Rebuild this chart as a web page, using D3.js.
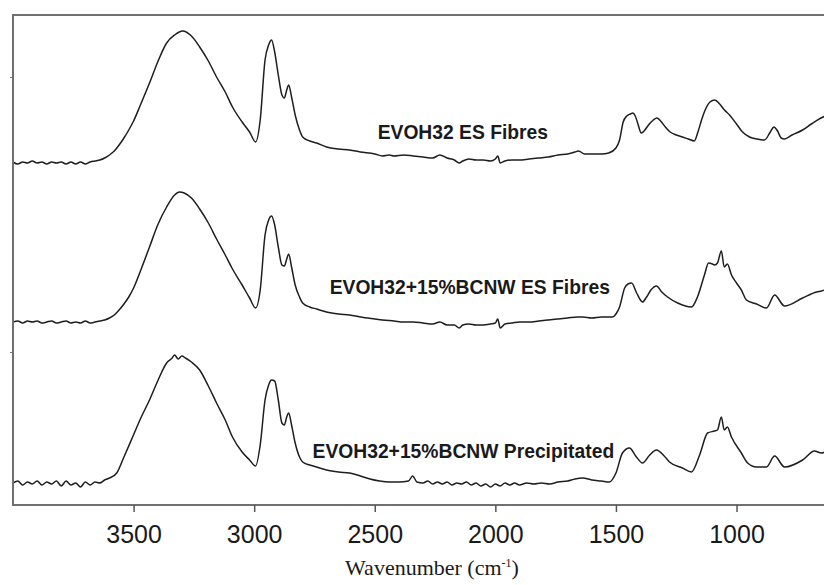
<!DOCTYPE html>
<html>
<head>
<meta charset="utf-8">
<script src="https://cdn.jsdelivr.net/npm/d3@7"></script>
<style>
  html, body { margin: 0; padding: 0; background: #fff; }
  svg { display: block; }
</style>
</head>
<body>
<svg id="chart" width="824" height="585"></svg>
<script>
// FTIR spectra, stacked absorbance (a.u.) vs wavenumber (cm-1)
const seriesNames = [
  "EVOH32 ES Fibres",
  "EVOH32+15%BCNW ES Fibres",
  "EVOH32+15%BCNW Precipitated"
];

const evohFibres = [
  [4000,3.43],[3980,3.41],[3960,3.43],[3940,3.42],[3920,3.44],[3900,3.42],[3880,3.43],[3860,3.41],[3840,3.43],[3820,3.42],
  [3800,3.43],[3780,3.41],[3760,3.43],[3740,3.41],[3720,3.43],[3700,3.41],[3680,3.43],[3660,3.44],[3640,3.45],[3620,3.47],
  [3600,3.50],[3580,3.54],[3560,3.60],[3540,3.67],[3520,3.75],[3500,3.84],[3470,4.01],[3434,4.22],[3400,4.43],[3363,4.62],
  [3330,4.70],[3297,4.74],[3260,4.69],[3226,4.58],[3190,4.44],[3156,4.28],[3120,4.13],[3090,3.98],[3050,3.83],[3019,3.73],
  [2994,3.63],[2975,3.85],[2955,4.45],[2940,4.60],[2928,4.65],[2915,4.53],[2900,4.30],[2885,4.10],[2875,4.07],[2865,4.15],
  [2857,4.20],[2845,4.08],[2830,3.90],[2812,3.75],[2799,3.68],[2770,3.64],[2741,3.62],[2700,3.58],[2650,3.56],[2604,3.55],
  [2560,3.53],[2500,3.51],[2468,3.49],[2440,3.50],[2420,3.49],[2380,3.50],[2340,3.49],[2300,3.48],[2260,3.47],[2230,3.50],
  [2200,3.47],[2170,3.45],[2150,3.42],[2135,3.44],[2110,3.46],[2080,3.45],[2050,3.45],[2020,3.44],[2000,3.46],[1990,3.49],
  [1980,3.42],[1960,3.44],[1930,3.45],[1900,3.45],[1860,3.46],[1820,3.47],[1780,3.48],[1740,3.50],[1700,3.51],[1670,3.53],
  [1655,3.54],[1630,3.51],[1600,3.51],[1560,3.51],[1530,3.52],[1500,3.57],[1485,3.65],[1470,3.83],[1455,3.89],[1440,3.91],
  [1430,3.92],[1420,3.89],[1410,3.82],[1395,3.72],[1380,3.75],[1365,3.80],[1345,3.85],[1330,3.87],[1315,3.84],[1295,3.78],
  [1275,3.73],[1250,3.70],[1224,3.68],[1200,3.66],[1175,3.64],[1160,3.73],[1145,3.85],[1130,3.95],[1110,4.03],[1090,4.05],
  [1070,4.01],[1050,3.95],[1029,3.90],[1000,3.81],[975,3.73],[946,3.68],[915,3.66],[884,3.65],[860,3.73],[845,3.78],
  [830,3.74],[815,3.67],[801,3.66],[770,3.70],[726,3.75],[690,3.81],[650,3.87],[620,3.90]
];

const bcnwFibres = [
  [4000,1.83],[3980,1.84],[3960,1.82],[3940,1.84],[3920,1.83],[3900,1.84],[3880,1.82],[3860,1.83],[3840,1.84],[3820,1.82],
  [3800,1.83],[3780,1.84],[3760,1.82],[3740,1.83],[3720,1.82],[3700,1.84],[3680,1.82],[3660,1.83],[3640,1.84],[3620,1.85],
  [3600,1.87],[3580,1.90],[3560,1.95],[3540,2.01],[3520,2.08],[3500,2.17],[3470,2.35],[3434,2.58],[3400,2.80],[3363,2.98],
  [3330,3.10],[3310,3.13],[3290,3.12],[3260,3.07],[3226,2.96],[3190,2.82],[3156,2.66],[3120,2.50],[3090,2.36],[3050,2.20],
  [3019,2.07],[2994,1.97],[2975,2.15],[2955,2.70],[2940,2.85],[2928,2.89],[2915,2.80],[2900,2.58],[2885,2.40],[2875,2.39],
  [2865,2.46],[2857,2.51],[2845,2.38],[2830,2.20],[2812,2.08],[2799,2.02],[2770,1.98],[2741,1.96],[2700,1.93],[2650,1.91],
  [2604,1.90],[2560,1.88],[2500,1.86],[2468,1.85],[2420,1.84],[2380,1.83],[2340,1.83],[2300,1.82],[2260,1.81],[2230,1.83],
  [2200,1.80],[2170,1.80],[2150,1.77],[2135,1.80],[2110,1.81],[2080,1.80],[2050,1.80],[2020,1.81],[2000,1.82],[1990,1.86],
  [1980,1.77],[1960,1.81],[1930,1.82],[1900,1.83],[1860,1.83],[1820,1.84],[1780,1.85],[1740,1.86],[1700,1.87],[1660,1.88],
  [1638,1.88],[1600,1.87],[1560,1.88],[1514,1.88],[1500,1.91],[1485,1.98],[1464,2.17],[1450,2.21],[1435,2.22],[1414,2.12],
  [1390,2.03],[1373,2.08],[1355,2.15],[1332,2.19],[1310,2.13],[1286,2.08],[1244,2.02],[1187,1.98],[1162,2.08],[1133,2.30],
  [1116,2.42],[1100,2.41],[1091,2.40],[1079,2.42],[1063,2.54],[1051,2.38],[1038,2.41],[1021,2.30],[1000,2.22],[980,2.15],
  [959,2.05],[917,2.01],[876,1.97],[842,2.10],[801,1.99],[726,2.07],[668,2.13],[648,2.14],[620,2.16]
];

const bcnwPrecipitated = [
  [4000,0.22],[3980,0.24],[3960,0.20],[3940,0.23],[3920,0.21],[3900,0.24],[3880,0.20],[3860,0.23],[3840,0.21],[3820,0.24],
  [3800,0.19],[3780,0.24],[3760,0.20],[3740,0.22],[3720,0.18],[3700,0.23],[3680,0.20],[3660,0.23],[3640,0.22],[3620,0.25],
  [3600,0.27],[3570,0.32],[3540,0.48],[3504,0.68],[3470,0.87],[3434,1.05],[3400,1.24],[3363,1.42],[3340,1.47],[3330,1.50],
  [3315,1.46],[3300,1.49],[3285,1.47],[3260,1.43],[3226,1.35],[3190,1.19],[3156,1.02],[3120,0.85],[3090,0.68],[3050,0.53],
  [3019,0.45],[2994,0.39],[2975,0.60],[2955,1.05],[2940,1.20],[2928,1.25],[2915,1.24],[2900,1.05],[2885,0.82],[2875,0.80],
  [2865,0.88],[2857,0.92],[2845,0.80],[2830,0.62],[2812,0.48],[2799,0.43],[2770,0.40],[2741,0.38],[2700,0.35],[2650,0.33],
  [2604,0.32],[2560,0.29],[2520,0.26],[2480,0.24],[2440,0.23],[2400,0.23],[2360,0.24],[2343,0.29],[2325,0.23],[2300,0.22],
  [2280,0.24],[2260,0.21],[2240,0.23],[2220,0.21],[2200,0.23],[2180,0.20],[2160,0.22],[2140,0.21],[2120,0.23],[2100,0.20],
  [2080,0.22],[2060,0.19],[2040,0.21],[2020,0.18],[2000,0.21],[1980,0.19],[1960,0.22],[1940,0.20],[1920,0.22],[1900,0.20],
  [1870,0.22],[1840,0.21],[1810,0.22],[1775,0.21],[1740,0.23],[1700,0.24],[1670,0.26],[1638,0.27],[1600,0.25],[1560,0.24],
  [1527,0.23],[1500,0.32],[1473,0.52],[1444,0.57],[1415,0.48],[1390,0.42],[1360,0.50],[1332,0.55],[1300,0.49],[1278,0.43],
  [1224,0.37],[1187,0.33],[1153,0.50],[1120,0.72],[1091,0.74],[1079,0.75],[1063,0.88],[1051,0.75],[1038,0.78],[1021,0.68],
  [980,0.52],[954,0.42],[917,0.38],[876,0.38],[842,0.49],[801,0.38],[726,0.45],[677,0.54],[648,0.52],[620,0.55]
];

// label anchors in data units: [wavenumber, absorbance]
const labelAnchors = [[2488, 3.66], [2687, 2.11], [2758, 0.47]];

const xTicks = [3500, 3000, 2500, 2000, 1500, 1000];
const yTicks = [1.53, 4.28];

const svg = d3.select("#chart");
const plot = { left: 13, top: 15, bottom: 505, right: 833 };

const x = d3.scaleLinear().domain([4000, 600]).range([plot.left, plot.right]);
const y = d3.scaleLinear().domain([0, 4.9]).range([plot.bottom, plot.top]);

svg.append("defs").append("clipPath").attr("id", "plotClip")
  .append("rect")
  .attr("x", plot.left).attr("y", plot.top)
  .attr("width", plot.right - plot.left).attr("height", plot.bottom - plot.top);

// spectra
const line = d3.line().x(d => x(d[0])).y(d => y(d[1])).curve(d3.curveMonotoneX);
const spectra = [evohFibres, bcnwFibres, bcnwPrecipitated];
svg.append("g").attr("clip-path", "url(#plotClip)")
  .selectAll("path").data(spectra).join("path")
  .attr("d", line)
  .attr("fill", "none")
  .attr("stroke", "#1e1e1e")
  .attr("stroke-width", 1.5)
  .attr("stroke-linejoin", "round");

// frame
svg.append("rect")
  .attr("x", plot.left).attr("y", plot.top)
  .attr("width", plot.right - plot.left).attr("height", plot.bottom - plot.top)
  .attr("fill", "none").attr("stroke", "#707070").attr("stroke-width", 2);

// bottom axis
const xAxis = svg.append("g")
  .attr("transform", `translate(0,${plot.bottom})`)
  .call(d3.axisBottom(x).tickValues(xTicks).tickSize(7).tickSizeOuter(0).tickFormat(d3.format("d")));
xAxis.select(".domain").remove();
xAxis.selectAll(".tick line").attr("stroke", "#555").attr("stroke-width", 1.5);
xAxis.selectAll(".tick text")
  .attr("y", 38).attr("dy", null)
  .attr("fill", "#1a1a1a")
  .style("font-family", "Arial, 'Liberation Sans', sans-serif")
  .style("font-size", "25px");

// left axis (ticks only)
const yAxis = svg.append("g")
  .attr("transform", `translate(${plot.left},0)`)
  .call(d3.axisLeft(y).tickValues(yTicks).tickSize(3).tickFormat(""));
yAxis.select(".domain").remove();
yAxis.selectAll(".tick line").attr("stroke", "#777");

// axis title
const title = svg.append("text")
  .attr("x", 432).attr("y", 575)
  .attr("text-anchor", "middle")
  .attr("fill", "#1a1a1a")
  .style("font-family", "'Times New Roman', 'Liberation Serif', serif")
  .style("font-size", "22px");
title.append("tspan").text("Wavenumber (cm");
title.append("tspan").attr("dy", -8).style("font-size", "12px").text("-1");
title.append("tspan").attr("dy", 8).text(")");

// series labels
svg.append("g").selectAll("text").data(seriesNames).join("text")
  .attr("x", (d, i) => x(labelAnchors[i][0]))
  .attr("y", (d, i) => y(labelAnchors[i][1]))
  .attr("fill", "#1a1a1a")
  .style("font-family", "Arial, 'Liberation Sans', sans-serif")
  .style("font-weight", "bold")
  .style("font-size", "19.3px")
  .text(d => d);
</script>
</body>
</html>
